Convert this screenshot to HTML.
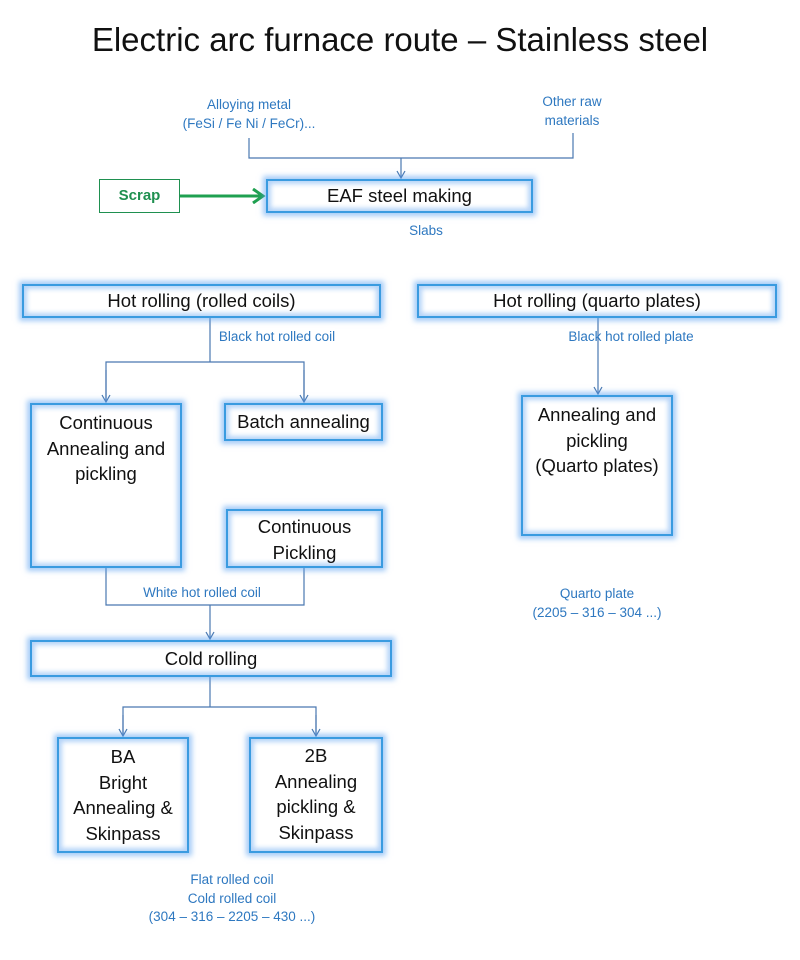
<!DOCTYPE html>
<html><head><meta charset="utf-8"><style>
body{margin:0;background:#fff;width:800px;height:960px;position:relative;overflow:hidden;font-family:"Liberation Sans","DejaVu Sans",sans-serif}
.b{position:absolute;box-sizing:border-box;border:2px solid #3a9be0;background:#fff;box-shadow:0 0 5px 3px rgba(90,160,240,.55),inset 0 0 5px 3px rgba(90,160,240,.45);text-align:center;color:#111;font-size:18.5px;line-height:25.5px;white-space:nowrap}
.t{position:absolute;color:#2e78c0;font-size:13.5px;text-align:center;line-height:18.5px;white-space:nowrap;transform:translateX(-50%)}
svg{position:absolute;left:0;top:0}
</style></head><body>
<div style="position:absolute;left:0;width:800px;top:21px;text-align:center;font-size:33px;color:#111">Electric arc furnace route – Stainless steel</div>
<svg width="800" height="960">
<defs><marker id="a" markerWidth="12" markerHeight="12" refX="5" refY="9" markerUnits="userSpaceOnUse"><path d="M1,2 L5,9 L9,2" fill="none" stroke="#4a78b0" stroke-width="1.2"/></marker>
<marker id="g" markerWidth="16" markerHeight="16" refX="13" refY="8" orient="auto" markerUnits="userSpaceOnUse"><path d="M3,1 L13,8 L3,15" fill="none" stroke="#1fa050" stroke-width="3"/></marker></defs>
<g stroke="#4a78b0" stroke-width="1.2" fill="none">
<polyline points="249,138 249,158 573,158 573,133"/>
<line x1="401" y1="158" x2="401" y2="178" marker-end="url(#a)"/>
<line x1="210" y1="318" x2="210" y2="362"/>
<polyline points="106,402 106,362 304,362 304,402"/>
<line x1="106" y1="370" x2="106" y2="402" marker-end="url(#a)"/>
<line x1="304" y1="370" x2="304" y2="402" marker-end="url(#a)"/>
<polyline points="106,568 106,605 304,605 304,568"/>
<line x1="210" y1="605" x2="210" y2="639" marker-end="url(#a)"/>
<line x1="210" y1="677" x2="210" y2="707"/>
<polyline points="123,736 123,707 316,707 316,736"/>
<line x1="123" y1="715" x2="123" y2="736" marker-end="url(#a)"/>
<line x1="316" y1="715" x2="316" y2="736" marker-end="url(#a)"/>
<line x1="598" y1="318" x2="598" y2="394" marker-end="url(#a)"/>
</g>
<line x1="180" y1="196" x2="263" y2="196" stroke="#1fa050" stroke-width="3" marker-end="url(#g)"/>
</svg>
<div class="t" style="left:249px;top:96px">Alloying metal<br>(FeSi / Fe Ni / FeCr)...</div>
<div class="t" style="left:572px;top:93px">Other raw<br>materials</div>
<div style="position:absolute;left:99px;top:179px;width:81px;height:34px;box-sizing:border-box;border:1px solid #1f9050;color:#1f9050;font-weight:bold;font-size:15px;line-height:32px;text-align:center">Scrap</div>
<div class="b" style="left:266px;top:179px;width:267px;height:34px;line-height:30px">EAF steel making</div>
<div class="t" style="left:426px;top:222px">Slabs</div>
<div class="b" style="left:22px;top:284px;width:359px;height:34px;line-height:30px">Hot rolling (rolled coils)</div>
<div class="b" style="left:417px;top:284px;width:360px;height:34px;line-height:30px">Hot rolling (quarto plates)</div>
<div class="t" style="left:277px;top:328px;background:#fff">Black hot rolled coil</div>
<div class="t" style="left:631px;top:328px">Black hot rolled plate</div>
<div class="b" style="left:30px;top:403px;width:152px;height:165px;padding-top:5px">Continuous<br>Annealing and<br>pickling</div>
<div class="b" style="left:224px;top:403px;width:159px;height:38px;line-height:34px">Batch annealing</div>
<div class="b" style="left:226px;top:509px;width:157px;height:59px;padding-top:3px">Continuous<br>Pickling</div>
<div class="t" style="left:202px;top:584px">White hot rolled coil</div>
<div class="b" style="left:30px;top:640px;width:362px;height:37px;line-height:33px">Cold rolling</div>
<div class="b" style="left:57px;top:737px;width:132px;height:116px;padding-top:5px">BA<br>Bright<br>Annealing &amp;<br>Skinpass</div>
<div class="b" style="left:249px;top:737px;width:134px;height:116px;padding-top:4px">2B<br>Annealing<br>pickling &amp;<br>Skinpass</div>
<div class="b" style="left:521px;top:395px;width:152px;height:141px;padding-top:5px">Annealing and<br>pickling<br>(Quarto plates)</div>
<div class="t" style="left:597px;top:585px">Quarto plate<br>(2205 – 316 – 304 ...)</div>
<div class="t" style="left:232px;top:871px">Flat rolled coil<br>Cold rolled coil<br>(304 – 316 – 2205 – 430 ...)</div>
</body></html>
